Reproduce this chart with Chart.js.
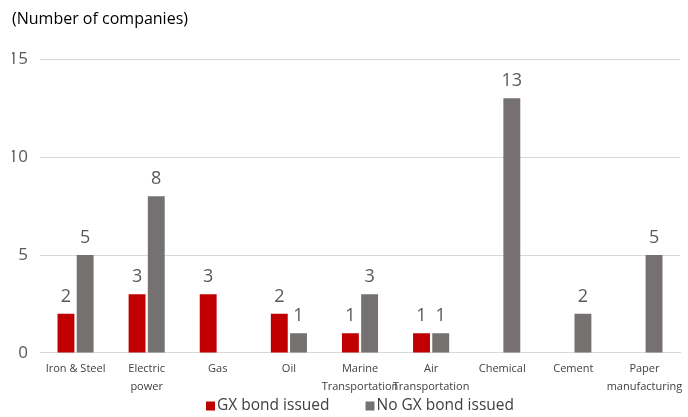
<!DOCTYPE html>
<html>
<head>
<meta charset="utf-8">
<script src="https://cdn.jsdelivr.net/npm/chart.js@4"></script>
<style>
  html, body { margin: 0; padding: 0; background: #fff; }
  #wrap { width: 688px; height: 417px; }
</style>
</head>
<body>
<div id="wrap"><canvas id="myChart"></canvas></div>
<script>
// chart data
const categories = [
  "Iron & Steel", ["Electric", "power"], "Gas", "Oil", ["Marine", "Transportation"],
  ["Air", "Transportation"], "Chemical", "Cement", ["Paper", "manufacturing"]
];
const gxIssued = [2, 3, 3, 2, 1, 1, null, null, null];
const noGxIssued = [5, 8, null, 1, 3, 1, 13, 2, 5];
const yTicks = [0, 5, 10, 15];

// draws the number above each bar
const barValues = {
  id: "barValues",
  afterDatasetsDraw(chart) {
    const ctx = chart.ctx;
    ctx.save();
    ctx.font = "18px 'Open Sans'";
    ctx.fillStyle = "#595959";
    ctx.textAlign = "center";
    ctx.textBaseline = "bottom";
    chart.data.datasets.forEach(function (ds, i) {
      chart.getDatasetMeta(i).data.forEach(function (bar, j) {
        if (ds.data[j] == null) return;
        ctx.fillText(ds.data[j], bar.x, bar.y - 8);
      });
    });
    ctx.restore();
  }
};

// legend under the axis labels, spaced like the original
const bottomLegend = {
  id: "bottomLegend",
  afterDraw(chart) {
    const ctx = chart.ctx;
    const sets = chart.data.datasets;
    const y = chart.height - 11;
    const box = 9, gap = 2, spacing = 36;
    ctx.save();
    ctx.font = "15.5px 'Open Sans'";
    ctx.textBaseline = "middle";
    let total = 0;
    sets.forEach(function (ds, i) {
      total += box + gap + ctx.measureText(ds.label).width;
      if (i < sets.length - 1) total += spacing;
    });
    let x = (chart.chartArea.left + chart.chartArea.right) / 2 - total / 2;
    sets.forEach(function (ds) {
      ctx.fillStyle = ds.backgroundColor;
      ctx.fillRect(x, y - box / 2, box, box);
      x += box + gap;
      ctx.fillStyle = "#404040";
      ctx.fillText(ds.label, x, y);
      x += ctx.measureText(ds.label).width + spacing;
    });
    ctx.restore();
  }
};

const ctx = document.getElementById("myChart");
new Chart(ctx, {
  type: "bar",
  data: {
    labels: categories,
    datasets: [
      {
        label: "GX bond issued",
        data: gxIssued,
        backgroundColor: "#c00000",
        categoryPercentage: 0.54,
        barPercentage: 0.88
      },
      {
        label: "No GX bond issued",
        data: noGxIssued,
        backgroundColor: "#767171",
        categoryPercentage: 0.54,
        barPercentage: 0.88
      }
    ]
  },
  plugins: [barValues, bottomLegend],
  options: {
    responsive: true,
    maintainAspectRatio: false,
    animation: false,
    layout: { padding: { left: 12, right: 8, top: 0, bottom: 22 } },
    plugins: {
      title: {
        display: true,
        text: "(Number of companies)",
        align: "start",
        color: "#000",
        font: { family: "'Open Sans'", size: 16, weight: "normal" },
        padding: { top: 10, bottom: 30 }
      },
      legend: { display: false },
      tooltip: { enabled: false }
    },
    scales: {
      x: {
        grid: { display: false },
        border: { color: "#d9d9d9" },
        ticks: {
          color: "#404040",
          font: { family: "'Open Sans'", size: 11, lineHeight: 1.64 },
          maxRotation: 0,
          autoSkip: false,
          padding: -1
        }
      },
      y: {
        min: 0,
        max: 15,
        afterBuildTicks(axis) {
          axis.ticks = yTicks.map(function (v) { return { value: v }; });
        },
        afterFit(axis) {
          axis.width = 28;
        },
        grid: { color: "#d9d9d9", drawTicks: false },
        border: { display: false },
        ticks: {
          color: "#595959",
          font: { family: "'Open Sans'", size: 17 },
          padding: 12
        }
      }
    }
  }
});
</script>
</body>
</html>
